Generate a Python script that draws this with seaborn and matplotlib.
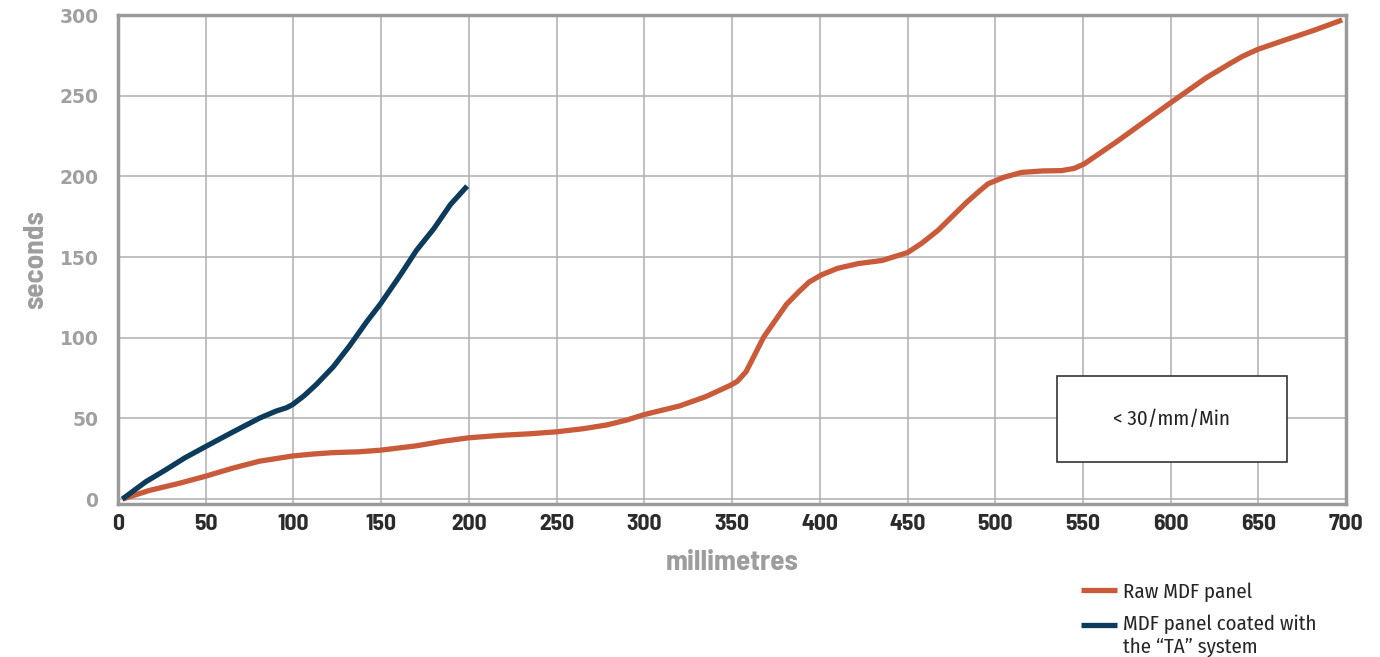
import pandas as pd
import matplotlib
matplotlib.use("Agg")
import matplotlib.pyplot as plt
import matplotlib.transforms as mtransforms
import seaborn as sns
from matplotlib.patches import Rectangle

# readings (mm, seconds)
raw_mm = [2.5, 17.7, 35, 49, 65.5, 80.7, 99.4, 112, 122.7, 137, 149.6, 170, 185, 200, 218,
          235, 250, 265, 278.8, 290, 300, 320, 335, 349, 353, 358, 368, 381, 388, 394, 401,
          410, 422, 435.5, 450, 458, 467.5, 483.5, 491, 496, 505, 515, 527, 537.8, 545,
          550.6, 569.8, 600, 620, 633.8, 641, 649.7, 665, 681.7, 697.7]
raw_sec = [0, 5.3, 9.8, 13.9, 19.2, 23.5, 26.7, 28, 28.8, 29.3, 30.3, 33, 35.8, 38, 39.5,
           40.5, 41.7, 43.6, 46, 49, 52.4, 57.7, 63.5, 70.5, 73, 79, 100.4, 120.7, 128.5, 134.6, 139,
           143, 146, 147.9, 152.8, 158.5, 166.7, 183.8, 191, 195.5, 199.5, 202.5, 203.4, 203.6, 205,
           207.7, 222, 245.7, 261, 270, 274.5, 278.8, 284.5, 290.6, 297]

coated_mm = [2.5, 15.8, 27, 38, 49, 65.5, 80.7, 90, 96, 99.4, 106, 113, 122.7, 132, 141.8,
             149.6, 161, 170, 180, 189.5, 199]
coated_sec = [0, 10.7, 18, 25.5, 32, 41.6, 50.2, 54.5, 56.6, 58.5, 64, 71, 82, 95, 110,
              121, 139, 154, 167.6, 182.6, 194]

series_names = ["Raw MDF panel", "MDF panel coated with\nthe \u201cTA\u201d system"]
x_ticks = list(range(0, 701, 50))
y_ticks = list(range(0, 301, 50))
box_text = "< 30/mm/Min"

df = pd.concat([
    pd.DataFrame({"mm": raw_mm, "sec": raw_sec, "panel": series_names[0]}),
    pd.DataFrame({"mm": coated_mm, "sec": coated_sec, "panel": series_names[1]}),
])

sns.set_style("white")
plt.rcParams['font.family'] = ['Barlow Semi Condensed', 'DejaVu Sans']

fig = plt.figure(figsize=(13.8, 6.57), dpi=100)
ax = fig.add_axes([0.0855, 0.233, 0.89, 0.744])

palette = {series_names[0]: "#C95B3B", series_names[1]: "#0D3B5C"}
sns.lineplot(data=df, x="mm", y="sec", hue="panel", palette=palette, sort=False,
             estimator=None, linewidth=3.8, ax=ax)
for ln in ax.lines:
    ln.set_solid_capstyle("butt")
    ln.set_solid_joinstyle("round")

ax.set_xlim(0, 700)
ax.set_ylim(-3, 300)
ax.set_xticks(x_ticks)
ax.set_yticks(y_ticks)
ax.grid(True, color="#AFAFAF", linewidth=1.1)
ax.set_axisbelow(True)
for s in ax.spines.values():
    s.set_color("#9A9A9A")
    s.set_linewidth(2.5)
ax.tick_params(length=0)
ax.tick_params(axis="x", pad=7)
ax.tick_params(axis="y", pad=14)
for t in ax.get_xticklabels():
    t.set_fontsize(17)
    t.set_fontweight("bold")
    t.set_color("#2B2B2B")
for t in ax.get_yticklabels():
    t.set_family("DejaVu Sans")
    t.set_fontsize(13.5)
    t.set_fontweight("bold")
    t.set_color("#A0A0A0")

ax.set_xlabel("millimetres", fontsize=21, fontweight="bold", color="#9D9D9D", labelpad=12)
ax.set_ylabel("seconds", fontsize=21, fontweight="bold", color="#9D9D9D", labelpad=8)

# annotation box
ax.add_patch(Rectangle((535, 23), 131, 53.5, facecolor="white", edgecolor="#333333",
                       linewidth=1.2, zorder=3))
ax.text(600.5, 49.5, box_text, ha="center", va="center", fontsize=15, color="#222222",
        family=["Fira Sans Condensed", "DejaVu Sans"], zorder=4)

handles, labels = ax.get_legend_handles_labels()
leg = ax.legend(handles, labels, loc="upper left", bbox_to_anchor=(0.777, -0.143), frameon=False,
                prop={"family": ["Fira Sans Condensed", "DejaVu Sans"], "size": 15},
                handlelength=1.75, handletextpad=0.3, labelspacing=0.62, borderaxespad=0)
# put the second handle level with the first line of its two-line label
blue_handle = leg.get_lines()[1]
blue_handle.set_transform(blue_handle.get_transform() + mtransforms.Affine2D().translate(0, 11))

fig.savefig("out.png", dpi=100)
